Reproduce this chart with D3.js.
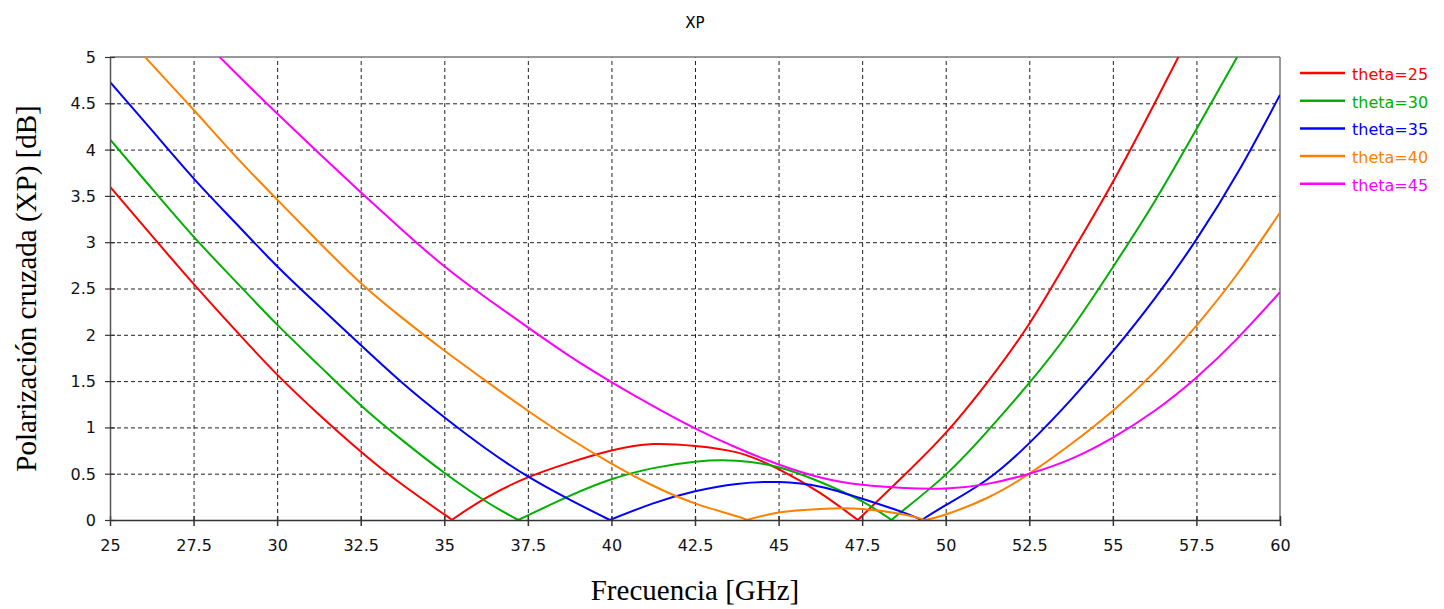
<!DOCTYPE html>
<html>
<head>
<meta charset="utf-8">
<script src="https://cdn.jsdelivr.net/npm/d3@7"></script>
<style>
  body { margin: 0; background: #fff; }
  .grid line { stroke: #222; stroke-width: 1; stroke-dasharray: 4,3; }
  .grid path { display: none; }
  .axis text { font-family: "DejaVu Sans", Verdana, sans-serif; font-size: 16px; fill: #111; }
</style>
</head>
<body>
<svg id="chart"></svg>
<script>
// tick values
var xTicks = [25, 27.5, 30, 32.5, 35, 37.5, 40, 42.5, 45, 47.5, 50, 52.5, 55, 57.5, 60];
var yTicks = [0, 0.5, 1, 1.5, 2, 2.5, 3, 3.5, 4, 4.5, 5];

// [frequency GHz, XP dB]
var theta25 = [[25,3.6],[26.25,3.07],[27.5,2.55],[28.75,2.05],[30,1.57],[31.25,1.14],[32.5,0.74],[33.75,0.38],
  [35,0.06],[35.22,0],[36.25,0.24],[37.5,0.46],[38.75,0.62],[40,0.75],[41.25,0.82],[42.5,0.8],[43.75,0.73],
  [45,0.55],[46.25,0.29],[47.37,0],[48.75,0.48],[50,0.94],[51.25,1.49],[52.5,2.12],[53.75,2.87],[55,3.65],
  [56.25,4.5],[57.5,5.38]];
var theta30 = [[25,4.11],[26.25,3.58],[27.5,3.06],[28.75,2.58],[30,2.11],[31.25,1.67],[32.5,1.24],[33.75,0.86],
  [35,0.51],[36.25,0.2],[37.21,0],[37.5,0.05],[38.75,0.26],[40,0.44],[41.25,0.56],[42.5,0.63],[43.75,0.64],
  [45,0.57],[46.25,0.41],[47.5,0.2],[48.38,0],[48.75,0.11],[50,0.49],[51.25,0.96],[52.5,1.48],[53.75,2.06],
  [55,2.73],[56.25,3.44],[57.5,4.22],[58.75,5.02],[60,5.85]];
var theta35 = [[25,4.73],[26.25,4.21],[27.5,3.69],[28.75,3.21],[30,2.74],[31.25,2.31],[32.5,1.89],[33.75,1.48],
  [35,1.11],[36.25,0.77],[37.5,0.47],[38.75,0.22],[39.95,0],[41.25,0.18],[42.5,0.31],[43.75,0.39],[45,0.41],
  [46.25,0.36],[47.5,0.23],[48.75,0.08],[49.28,0],[50,0.16],[51.25,0.44],[52.5,0.83],[53.75,1.3],[55,1.82],
  [56.25,2.39],[57.5,3.03],[58.75,3.76],[60,4.59]];
var theta40 = [[25,5.42],[26.25,4.92],[27.5,4.43],[28.75,3.93],[30,3.46],[31.25,3.0],[32.5,2.56],[33.75,2.18],
  [35,1.83],[36.25,1.5],[37.5,1.18],[38.75,0.88],[40,0.61],[41.25,0.37],[42.5,0.18],[43.75,0.04],[44.05,0],
  [45,0.08],[46.25,0.12],[47.5,0.12],[48.75,0.06],[49.38,0],[50,0.06],[51.25,0.24],[52.5,0.5],[53.75,0.82],
  [55,1.18],[56.25,1.6],[57.5,2.1],[58.75,2.67],[60,3.32]];
var theta45 = [[25,6.15],[26.25,5.72],[27.5,5.28],[28.75,4.83],[30,4.39],[31.25,3.96],[32.5,3.54],[33.75,3.13],
  [35,2.74],[36.25,2.4],[37.5,2.08],[38.75,1.77],[40,1.49],[41.25,1.23],[42.5,0.99],[43.75,0.78],[45,0.6],
  [46.25,0.46],[47.5,0.38],[48.75,0.345],[50,0.34],[51.25,0.39],[52.5,0.5],[53.75,0.66],[55,0.89],
  [56.25,1.18],[57.5,1.54],[58.75,1.97],[60,2.46]];

var names = ["theta=25", "theta=30", "theta=35", "theta=40", "theta=45"];
var colors = ["#ff0000", "#00b000", "#0000ff", "#ff8000", "#ff00ff"];

var series = [theta25, theta30, theta35, theta40, theta45].map(function(v, i) {
  return {name: names[i], color: colors[i], values: v};
});

var svgwidth = 1444,
    svgheight = 609,
    margin = {top: 57, right: 164, bottom: 89, left: 110},
    width = svgwidth - margin.left - margin.right,
    height = svgheight - margin.top - margin.bottom;

var svg = d3.select("#chart")
    .attr("width", svgwidth)
    .attr("height", svgheight);

var g = svg.append("g").attr("transform", "translate(" + margin.left + "," + margin.top + ")");

var x = d3.scaleLinear().domain([25, 60]).range([0, width]),
    y = d3.scaleLinear().domain([0, 5]).range([height, 0]);

// grid
g.append("g")
    .attr("class", "grid")
    .attr("transform", "translate(0," + height + ")")
    .call(d3.axisBottom(x).tickValues(xTicks.slice(1, -1)).tickSize(-height).tickFormat(""));
g.append("g")
    .attr("class", "grid")
    .call(d3.axisLeft(y).tickValues(yTicks.slice(1, -1)).tickSize(-width).tickFormat(""));

// frame top / right
g.append("line").attr("x1", 0).attr("x2", width).attr("y1", 0).attr("y2", 0)
    .attr("stroke", "#777").attr("stroke-width", 1.5);
g.append("line").attr("x1", width).attr("x2", width).attr("y1", 0).attr("y2", height)
    .attr("stroke", "#777").attr("stroke-width", 1.5);

// clip for curves
svg.append("defs").append("clipPath").attr("id", "plotclip")
  .append("rect").attr("x", 0).attr("y", 0).attr("width", width).attr("height", height + 1);

var line = d3.line()
    .curve(d3.curveNatural)
    .x(function(d) { return x(d[0]); })
    .y(function(d) { return y(d[1]); });

// split at zeros so the dips stay sharp
function pieces(values) {
  var out = [], cur = [];
  values.forEach(function(d) {
    cur.push(d);
    if (d[1] === 0) { out.push(cur); cur = [d]; }
  });
  if (cur.length > 1) out.push(cur);
  return out;
}

var curves = g.append("g").attr("clip-path", "url(#plotclip)");
series.forEach(function(s) {
  curves.selectAll(null)
    .data(pieces(s.values))
    .enter().append("path")
      .attr("d", line)
      .attr("fill", "none")
      .attr("stroke", s.color)
      .attr("stroke-width", 2)
      .attr("stroke-linejoin", "round");
});

// axes
var xAxis = g.append("g")
    .attr("class", "axis")
    .attr("transform", "translate(0," + height + ")")
    .call(d3.axisBottom(x).tickValues(xTicks).tickSize(6).tickSizeOuter(0).tickFormat(d3.format("")));
xAxis.select(".domain").attr("stroke", "#333").attr("stroke-width", 1.5);
xAxis.selectAll(".tick line").attr("y1", -4).attr("stroke", "#333").attr("stroke-width", 1.5);
xAxis.selectAll(".tick text").attr("y", 20).attr("dy", "0.71em");

var yAxis = g.append("g")
    .attr("class", "axis")
    .call(d3.axisLeft(y).tickValues(yTicks).tickSize(5).tickSizeOuter(0).tickFormat(d3.format("")));
yAxis.select(".domain").attr("stroke", "#555").attr("stroke-width", 1.5);
yAxis.selectAll(".tick line").attr("x1", 5).attr("stroke", "#333").attr("stroke-width", 1.2);
yAxis.selectAll(".tick text").attr("x", -14).attr("dy", "0.34em");

// titles
svg.append("text")
    .attr("x", margin.left + width / 2)
    .attr("y", 28)
    .attr("text-anchor", "middle")
    .style("font", "15px 'DejaVu Sans', sans-serif")
    .text("XP");

svg.append("text")
    .attr("x", margin.left + width / 2)
    .attr("y", 600)
    .attr("text-anchor", "middle")
    .style("font", "29px 'Liberation Serif', 'Times New Roman', serif")
    .text("Frecuencia [GHz]");

svg.append("text")
    .attr("transform", "translate(36," + (margin.top + height / 2) + ") rotate(-90)")
    .attr("text-anchor", "middle")
    .style("font", "29px 'Liberation Serif', 'Times New Roman', serif")
    .text("Polarización cruzada (XP) [dB]");

// legend
var legend = svg.append("g").attr("transform", "translate(1300,73)");
var item = legend.selectAll("g")
    .data(series)
    .enter().append("g")
    .attr("transform", function(d, i) { return "translate(0," + (i * 27.7) + ")"; });
item.append("line")
    .attr("x1", 0).attr("x2", 45)
    .attr("stroke", function(d) { return d.color; })
    .attr("stroke-width", 2.5);
item.append("text")
    .attr("x", 52)
    .attr("y", 7)
    .style("font", "16px 'DejaVu Sans', Verdana, sans-serif")
    .attr("fill", function(d) { return d.color; })
    .text(function(d) { return d.name; });
</script>
</body>
</html>
